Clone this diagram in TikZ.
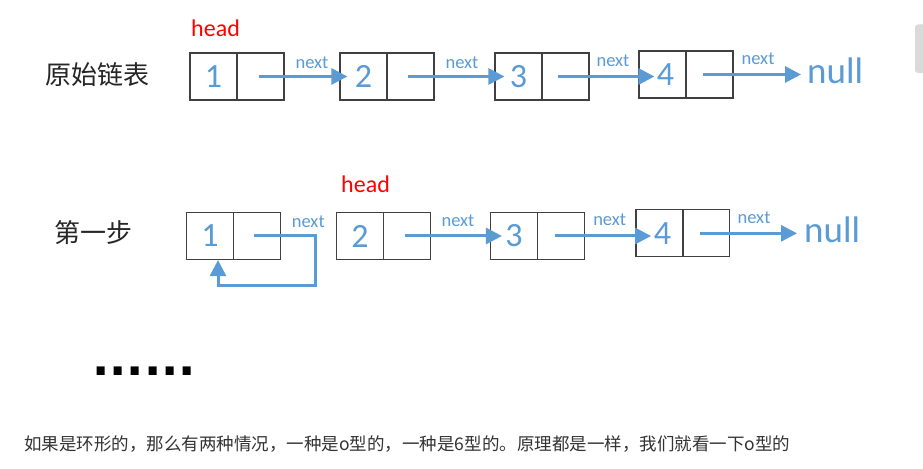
\documentclass[tikz,border=0pt]{standalone}
\usepackage{fontspec}
\setmainfont{Carlito}
\newfontfamily\cjk{Noto Sans CJK SC}
\newfontfamily\squaredots{DejaVu Sans}
\usetikzlibrary{arrows.meta,calc}
\definecolor{linkblue}{RGB}{91,155,213}
\definecolor{boxgray}{RGB}{64,64,64}
\definecolor{labelgray}{RGB}{38,38,38}
\definecolor{textgray}{RGB}{51,51,51}
\definecolor{scrollgray}{RGB}{218,218,218}
\begin{document}
\begin{tikzpicture}[>={Triangle[length=16bp,width=16bp]},line join=miter,
  cell/.style={draw=boxgray,line width=1.2bp,minimum width=47bp,minimum height=47bp,inner sep=0pt,text=linkblue,font=\fontsize{34bp}{40bp}\selectfont},
  ptr/.style={linkblue,line width=3bp,->},
  nextlabel/.style={anchor=base,inner sep=0pt,text=linkblue,font=\fontsize{18.5bp}{22bp}\selectfont},
  headlabel/.style={anchor=base west,inner sep=0pt,text=red,font=\fontsize{24bp}{29bp}\selectfont},
  nulllabel/.style={anchor=base west,inner sep=0pt,text=linkblue,font=\fontsize{37bp}{44bp}\selectfont},
  rowlabel/.style={anchor=west,inner sep=0pt,text=labelgray,font=\cjk\fontsize{26bp}{31bp}\selectfont}]
\fill [white] (0bp,0bp) rectangle (923bp,469bp);
\useasboundingbox (0bp,0bp) rectangle (923bp,469bp);
\fill [scrollgray,rounded corners=3bp] (915bp,396bp) rectangle (930bp,444.5bp);
%%
\node (node_title1) at (45bp,394bp) [rowlabel] {原始链表};
  \node (node_head1) at (191bp,432.3bp) [headlabel] {head};
  \node (node_a1v) at (213.5bp,392.5bp) [cell] {1};
  \node (node_a1p) at (260.5bp,392.5bp) [cell] {};
  \node (node_a2v) at (363.5bp,392.5bp) [cell] {2};
  \node (node_a2p) at (410.5bp,392.5bp) [cell] {};
  \node (node_a3v) at (518.5bp,392.5bp) [cell] {3};
  \node (node_a3p) at (565.5bp,392.5bp) [cell] {};
  \node (node_a4v) at (662.5bp,394.5bp) [cell] {\hspace{6bp}4};
  \node (node_a4p) at (709.5bp,394.5bp) [cell] {};
  \node (node_anull) at (807bp,385bp) [nulllabel] {null};
  \node (node_anext1) at (312bp,400.7bp) [nextlabel] {next};
  \node (node_anext2) at (462bp,400.7bp) [nextlabel] {next};
  \node (node_anext3) at (613bp,402.3bp) [nextlabel] {next};
  \node (node_anext4) at (758bp,404.7bp) [nextlabel] {next};
  \draw [ptr] ([xshift=-1.5bp]node_a1p.center) -- ([xshift=8bp]node_a2v.west);
  \draw [ptr] ([xshift=-2.5bp]node_a2p.center) -- ([xshift=10bp]node_a3v.west);
  \draw [ptr] ([xshift=-7.5bp]node_a3p.center) -- ($(node_a4v.west |- node_a3p.center)+(16bp,0)$);
  \draw [ptr] ([xshift=-6.5bp]node_a4p.center) -- ($(node_a4p.center -| node_anull.west)+(-6bp,0)$);
%
\node (node_title2) at (54bp,236bp) [rowlabel] {第一步};
  \node (node_head2) at (341bp,276.3bp) [headlabel] {head};
  \node (node_b1v) at (210bp,233bp) [cell] {1};
  \node (node_b1p) at (257bp,233bp) [cell] {};
  \node (node_b2v) at (360bp,233bp) [cell] {2};
  \node (node_b2p) at (407bp,233bp) [cell] {};
  \node (node_b3v) at (514bp,233bp) [cell] {3};
  \node (node_b3p) at (561bp,233bp) [cell] {};
  \node (node_b4v) at (659.5bp,235.7bp) [cell] {\hspace{6bp}4};
  \node (node_b4p) at (706bp,235.7bp) [cell] {};
  \node (node_bnull) at (804bp,226.3bp) [nulllabel] {null};
  \node (node_bnext1) at (308.3bp,241.7bp) [nextlabel] {next};
  \node (node_bnext2) at (458bp,242.3bp) [nextlabel] {next};
  \node (node_bnext3) at (609.7bp,243bp) [nextlabel] {next};
  \node (node_bnext4) at (754bp,245.7bp) [nextlabel] {next};
  \coordinate (loop_corner) at (315bp,183bp);
  \draw [ptr] ([xshift=-3bp]node_b1p.center) -| (loop_corner) -| ([xshift=8bp]node_b1v.south);
  \draw [ptr] ([xshift=-2bp]node_b2p.center) -- ([xshift=12bp]node_b3v.west);
  \draw [ptr] ([xshift=-6bp]node_b3p.center) -- ($(node_b4v.west |- node_b3p.center)+(15.7bp,0)$);
  \draw [ptr] ([xshift=-6bp]node_b4p.center) -- ($(node_b4p.center -| node_bnull.west)+(-7bp,0)$);
%
\node (node_dots) at (92bp,93bp) [anchor=base west,inner sep=0pt,font=\squaredots\bfseries\fontsize{45.5bp}{50bp}\selectfont] {......};
  \node (node_note) at (24bp,25bp) [anchor=west,inner sep=0pt,text=textgray,font=\cjk\fontsize{17.5bp}{21bp}\selectfont] {如果是环形的，那么有两种情况，一种是o型的，一种是6型的。原理都是一样，我们就看一下o型的};
%
\end{tikzpicture}
\end{document}
